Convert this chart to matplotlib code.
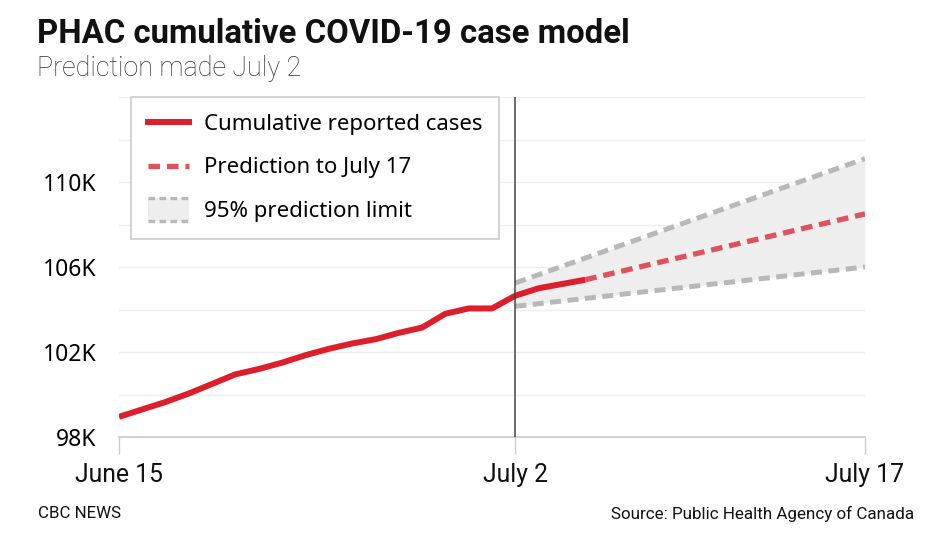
import numpy as np
import pandas as pd
import matplotlib
matplotlib.use('Agg')
import matplotlib.pyplot as plt
from matplotlib.lines import Line2D
from matplotlib.patches import Rectangle
from matplotlib.legend_handler import HandlerBase

# Reported cumulative cases (thousands), June 15 - July 5
report_dates = pd.date_range('2020-06-15', '2020-07-05')
reported = [98.95, 99.3, 99.65, 100.05, 100.5, 100.95, 101.2, 101.5, 101.85,
            102.15, 102.4, 102.6, 102.9, 103.15, 103.8, 104.05, 104.05, 104.65,
            105.0, 105.2, 105.4]

# Model prediction (thousands)
pred_dates = pd.to_datetime(['2020-07-05', '2020-07-17'])
predicted = [105.4, 108.5]

# 95% prediction limits (thousands)
limit_dates = pd.to_datetime(['2020-07-02', '2020-07-17'])
upper = [105.25, 111.1]
lower = [104.15, 106.0]

tick_dates = pd.to_datetime(['2020-06-15', '2020-07-02', '2020-07-17'])
tick_labels = ['June 15', 'July 2', 'July 17']
y_ticks = [98, 102, 106, 110]
y_labels = ['98K', '102K', '106K', '110K']

RED = '#dc1f2b'
RED_DASH = '#e0525b'
GREY_DASH = '#b8b8b8'
FILL = '#eeeeee'
COND = ['Roboto', 'DejaVu Sans']
SANS = ['Noto Sans', 'DejaVu Sans']

W, H = 930, 533
fig = plt.figure(figsize=(W / 100, H / 100), dpi=100)
renderer = fig.canvas.get_renderer()


def fit_width(txt, width_px):
    # scale a text so its rendered width matches the reference
    w = txt.get_window_extent(renderer).width
    txt.set_fontsize(txt.get_fontsize() * width_px / w)


# axes box in pixels: x 119..865, y 97..437
ax = fig.add_axes([119 / W, (H - 437) / H, (865 - 119) / W, (437 - 97) / H])

ax.fill_between(limit_dates, lower, upper, color=FILL, lw=0, zorder=1)
ax.plot(limit_dates, upper, color=GREY_DASH, lw=3.6, dashes=(2.2, 1.3), zorder=2)
ax.plot(limit_dates, lower, color=GREY_DASH, lw=3.6, dashes=(2.2, 1.3), zorder=2)
ax.plot(pred_dates, predicted, color=RED_DASH, lw=3.8, dashes=(2.2, 1.3), zorder=3)
ax.plot(report_dates, reported, color=RED, lw=4.3, solid_capstyle='butt', zorder=4)
ax.axvline(tick_dates[1], color='#444444', lw=1.1, zorder=5)

ax.set_xlim(tick_dates[0], tick_dates[2])
ax.set_ylim(98, 114)
ax.set_yticks(y_ticks)
ax.set_yticklabels(y_labels, family=SANS, fontsize=16.5)
ax.set_yticks(np.arange(98, 115, 2), minor=True)
ax.grid(axis='y', which='both', color='#eeeeee', lw=1)
ax.set_axisbelow(True)
ax.tick_params(axis='y', which='both', length=0, pad=16)

ax.set_xticks(tick_dates)
ax.set_xticklabels(tick_labels, family=COND, fontsize=18, color='#111111')
ax.tick_params(axis='x', length=12, width=1, color='#cccccc', pad=7)
fig.canvas.draw()
ref = ax.get_xticklabels()[0].get_window_extent(renderer).width
for lab in ax.get_xticklabels():
    lab.set_fontsize(18 * 88 / ref)

for s in ['top', 'right', 'left']:
    ax.spines[s].set_visible(False)
ax.spines['bottom'].set_color('#cccccc')
ax.spines['bottom'].set_linewidth(1.3)


class LimitHandler(HandlerBase):
    def create_artists(self, legend, orig, xd, yd, width, height, fontsize, trans):
        y0 = yd - height * 0.25
        h = height * 1.5
        rect = Rectangle((xd, y0), width, h, facecolor=FILL, edgecolor='none', transform=trans)
        top = Line2D([xd, xd + width], [y0 + h, y0 + h], color=GREY_DASH, lw=2.4,
                     dashes=(2.0, 1.3), transform=trans)
        bot = Line2D([xd, xd + width], [y0, y0], color=GREY_DASH, lw=2.4,
                     dashes=(2.0, 1.3), transform=trans)
        return [rect, top, bot]


handles = [Line2D([], [], color=RED, lw=4.3),
           Line2D([], [], color=RED_DASH, lw=3.8, dashes=(2.2, 1.3)),
           Rectangle((0, 0), 1, 1)]
labels = ['Cumulative reported cases', 'Prediction to July 17', '95% prediction limit']
leg = ax.legend(handles, labels, handler_map={Rectangle: LimitHandler()},
                loc='upper left', mode='expand',
                bbox_to_anchor=(131 / W, (H - 238) / H, (499 - 131) / W, (238 - 97) / H),
                bbox_transform=fig.transFigure, borderaxespad=0,
                prop={'family': SANS, 'size': 16}, handlelength=1.85,
                handletextpad=0.68, labelspacing=1.02, borderpad=0.75,
                fancybox=False, framealpha=1, edgecolor='#cccccc')
leg.get_frame().set_linewidth(1.2)
leg.set_zorder(10)

title = fig.text(37 / W, 1 - 34 / H, 'PHAC cumulative COVID-19 case model', family=COND,
                 weight='bold', fontsize=23, va='center', ha='left', color='#111111')
sub = fig.text(37 / W, 1 - 68 / H, 'Prediction made July 2', family=COND, weight='light',
               fontsize=18, va='center', ha='left', color='#333333')
brand = fig.text(38 / W, 1 - 514 / H, 'CBC NEWS', family=COND, fontsize=12,
                 va='center', ha='left', color='#111111')
src = fig.text(914 / W, 1 - 514 / H, 'Source: Public Health Agency of Canada', family=COND,
               fontsize=12, va='center', ha='right', color='#111111')
fit_width(title, 595)
fit_width(sub, 265)
fit_width(brand, 83)
fit_width(src, 302)

fig.savefig('out.png', dpi=100, facecolor='white')
